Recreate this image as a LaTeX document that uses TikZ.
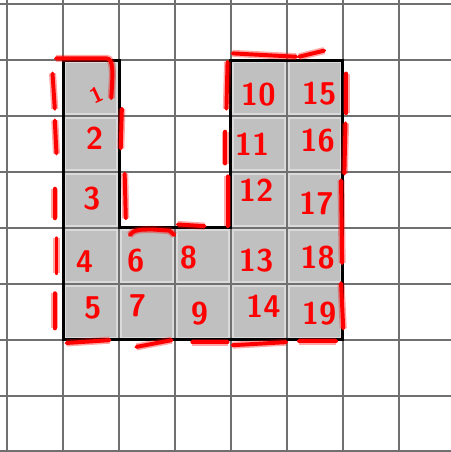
\documentclass[tikz,border=0pt]{standalone}
\usepackage{tikz}
\usetikzlibrary{positioning}
\definecolor{cellgray}{RGB}{192,192,192}
\definecolor{cellhi}{RGB}{218,218,218}
\definecolor{gridgray}{RGB}{112,112,112}
\definecolor{penred}{RGB}{255,0,0}

\begin{document}
\begin{tikzpicture}[font=\sffamily\bfseries\fontsize{16}{16}\selectfont,
  num/.style={text=penred, inner sep=0pt},
  pen/.style={penred, line width=2pt, line cap=round, line join=round,
    preaction={draw, penred, opacity=0.35, line width=3.6pt}}]
\useasboundingbox (-0.13,-0.01) rectangle (7.93,8.075);
\fill[white] (-0.13,-0.01) rectangle (7.93,8.075);
% shaded region
\fill[cellgray] (1,7) -- (2,7) -- (2,4) -- (4,4) -- (4,7) -- (6,7) -- (6,2) -- (1,2) -- cycle;
\begin{scope}
\clip (1,7) -- (2,7) -- (2,4) -- (4,4) -- (4,7) -- (6,7) -- (6,2) -- (1,2) -- cycle;
\draw[cellhi, line width=3pt, step=1] (0,0) grid (7,8);
\end{scope}
% grid
\draw[gridgray, line width=1pt, step=1] (-0.13,-0.01) grid (7.93,8.075);
% outline
\draw[black, line width=1.6pt] (1,7) -- (2,7) -- (2,4) -- (4,4) -- (4,7) -- (6,7) -- (6,2) -- (1,2) -- cycle;
% cell numbers
\node[num, font=\sffamily\bfseries\fontsize{11}{11}\selectfont, rotate=25] (n1) at (1.6,6.37) {1};
\node[num] (n2) at (1.56,5.6) {2};   \node[num] (n3) at (1.51,4.53) {3};
\node[num] (n4) at (1.38,3.4) {4};   \node[num] (n5) at (1.53,2.56) {5};
\node[num] (n6) at (2.3,3.42) {6};   \node[num] (n7) at (2.33,2.6) {7};
\node[num] (n8) at (3.24,3.46) {8};  \node[num] (n9) at (3.44,2.47) {9};
\node[num] (n10) at (4.49,6.38) {10}; \node[num] (n11) at (4.38,5.49) {11};
\node[num] (n12) at (4.45,4.67) {12}; \node[num] (n13) at (4.45,3.42) {13};
\node[num] (n14) at (4.58,2.6) {14};
\node[num] (n15) at (5.58,6.4) {15};  \node[num] (n16) at (5.55,5.56) {16};
\node[num] (n17) at (5.53,4.44) {17}; \node[num] (n18) at (5.55,3.46) {18};
\node[num] (n19) at (5.58,2.47) {19};
% pen strokes, left column
\draw[pen] (0.87,7.03) -- (1.78,7.03) .. controls (1.9,7.02) and (1.89,6.8) .. (1.86,6.32);
\draw[pen] (0.81,6.76) -- (0.85,6.13);
\draw[pen] (0.85,5.92) -- (0.88,5.33);
\draw[pen] (0.85,4.7) -- (0.85,4.17);
\draw[pen] (0.88,3.81) -- (0.88,3.19);
\draw[pen] (0.85,2.83) -- (0.85,2.2);
\draw[pen] (2.05,6.13) -- (2.03,5.42);
\draw[pen] (2.1,4.97) -- (2.12,4.17);
% pen strokes, bottom
\draw[pen] (1.06,1.94) -- (1.83,1.99);
\draw[pen] (2.31,1.87) -- (2.94,1.99);
\draw[pen] (3.31,1.955) -- (3.94,1.955);
\draw[pen] (4.03,1.9) -- (4.99,1.955);
\draw[pen] (5.22,1.97) -- (5.88,1.97);
% pen strokes, inner bottom
\draw[pen] (2.19,3.87) .. controls (2.25,3.97) and (2.4,3.97) .. (2.6,3.97) -- (2.9,3.95) -- (2.99,3.87);
\draw[pen] (3.05,4.06) -- (3.53,4.03);
% pen strokes, right columns
\draw[pen] (3.94,6.97) -- (3.92,6.13);
\draw[pen] (3.9,5.72) -- (3.9,5.15);
\draw[pen] (3.94,4.92) -- (3.94,4.03);
\draw[pen] (4.03,7.12) -- (5.17,7.06);
\draw[pen] (5.22,7.06) -- (5.67,7.17);
\draw[pen] (6.06,6.76) -- (6.06,6.05);
\draw[pen] (6.05,5.87) -- (6.03,4.97);
\draw[pen] (5.97,4.85) -- (5.99,3.37);
\draw[pen] (5.97,3.01) -- (6.01,2.2);
\end{tikzpicture}
\end{document}
